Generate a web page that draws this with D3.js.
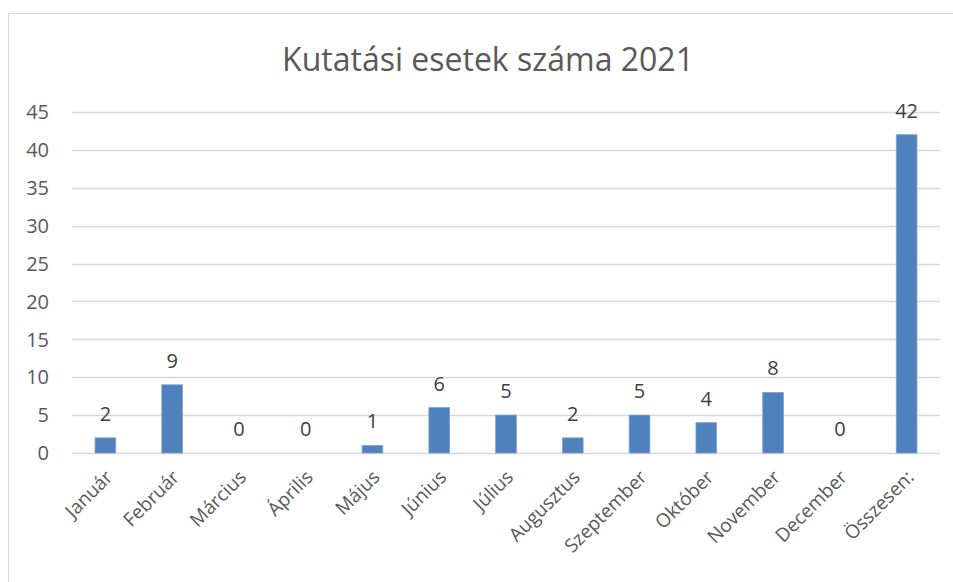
<!DOCTYPE html>
<html lang="hu">
<head>
    <meta charset="utf-8">
    <title>Kutatási esetek száma 2021</title>
    <script src="https://d3js.org/d3.v7.min.js"></script>
    <style>
        body { margin: 0; background: #fff; }
        text { font-family: "Open Sans", Lato, sans-serif; }
    </style>
</head>
<body>

<script>
    const months = ["Január", "Február", "Március", "Április", "Május", "Június", "Július",
        "Augusztus", "Szeptember", "Október", "November", "December", "Összesen:"];
    const cases = [2, 9, 0, 0, 1, 6, 5, 2, 5, 4, 8, 0, 42];
    const yTicks = [0, 5, 10, 15, 20, 25, 30, 35, 40, 45];
    const title = "Kutatási esetek száma 2021";

    const width = 953, height = 582;
    const plotLeft = 72, plotRight = 940, plotTop = 112, plotBottom = 453;

    const svg = d3.select("body").append("svg")
            .attr("width", width).attr("height", height);

    svg.append("rect")
            .attr("x", 8.5).attr("y", 13.5)
            .attr("width", 1000).attr("height", 700)
            .attr("fill", "#fff").attr("stroke", "#d9d9d9");

    const x = d3.scaleBand()
            .domain(months)
            .range([plotLeft, plotRight])
            .paddingInner(0.69)
            .paddingOuter(0.345);

    const y = d3.scaleLinear().domain([0, 45]).range([plotBottom, plotTop]);

    // gridlines
    svg.append("g")
            .selectAll("line")
            .data(yTicks).join("line")
            .attr("x1", plotLeft).attr("x2", plotRight)
            .attr("y1", d => Math.round(y(d)) + 0.5)
            .attr("y2", d => Math.round(y(d)) + 0.5)
            .attr("stroke", "#d9d9d9").attr("stroke-width", 1.3);

    // y labels
    svg.append("g")
            .selectAll("text")
            .data(yTicks).join("text")
            .attr("x", 49).attr("y", d => y(d))
            .attr("dy", "0.36em")
            .attr("text-anchor", "end")
            .attr("font-size", 20).attr("fill", "#595959")
            .text(d => d);

    // bars
    svg.append("g")
            .selectAll("rect")
            .data(cases).join("rect")
            .attr("x", (d, i) => x(months[i]))
            .attr("y", d => y(d))
            .attr("width", x.bandwidth())
            .attr("height", d => y(0) - y(d))
            .attr("fill", "#4f81bd")
            .attr("stroke", "#7fa2cf").attr("stroke-width", 0.8);

    // value labels
    svg.append("g")
            .selectAll("text")
            .data(cases).join("text")
            .attr("x", (d, i) => x(months[i]) + x.bandwidth() / 2)
            .attr("y", d => y(d) - 17)
            .attr("text-anchor", "middle")
            .attr("font-size", 20).attr("fill", "#404040")
            .text(d => d);

    // x labels
    svg.append("g")
            .selectAll("text")
            .data(months).join("text")
            .attr("transform", d => `translate(${x(d) + x.bandwidth() / 2 - 1},${plotBottom + 16}) rotate(-45)`)
            .attr("text-anchor", "end")
            .attr("dy", "0.7em")
            .attr("font-size", 19).attr("fill", "#595959")
            .text(d => d);

    svg.append("text")
            .attr("x", 488).attr("y", 71)
            .attr("text-anchor", "middle")
            .attr("font-size", 32).attr("fill", "#595959")
            .text(title);
</script>

</body>
</html>
